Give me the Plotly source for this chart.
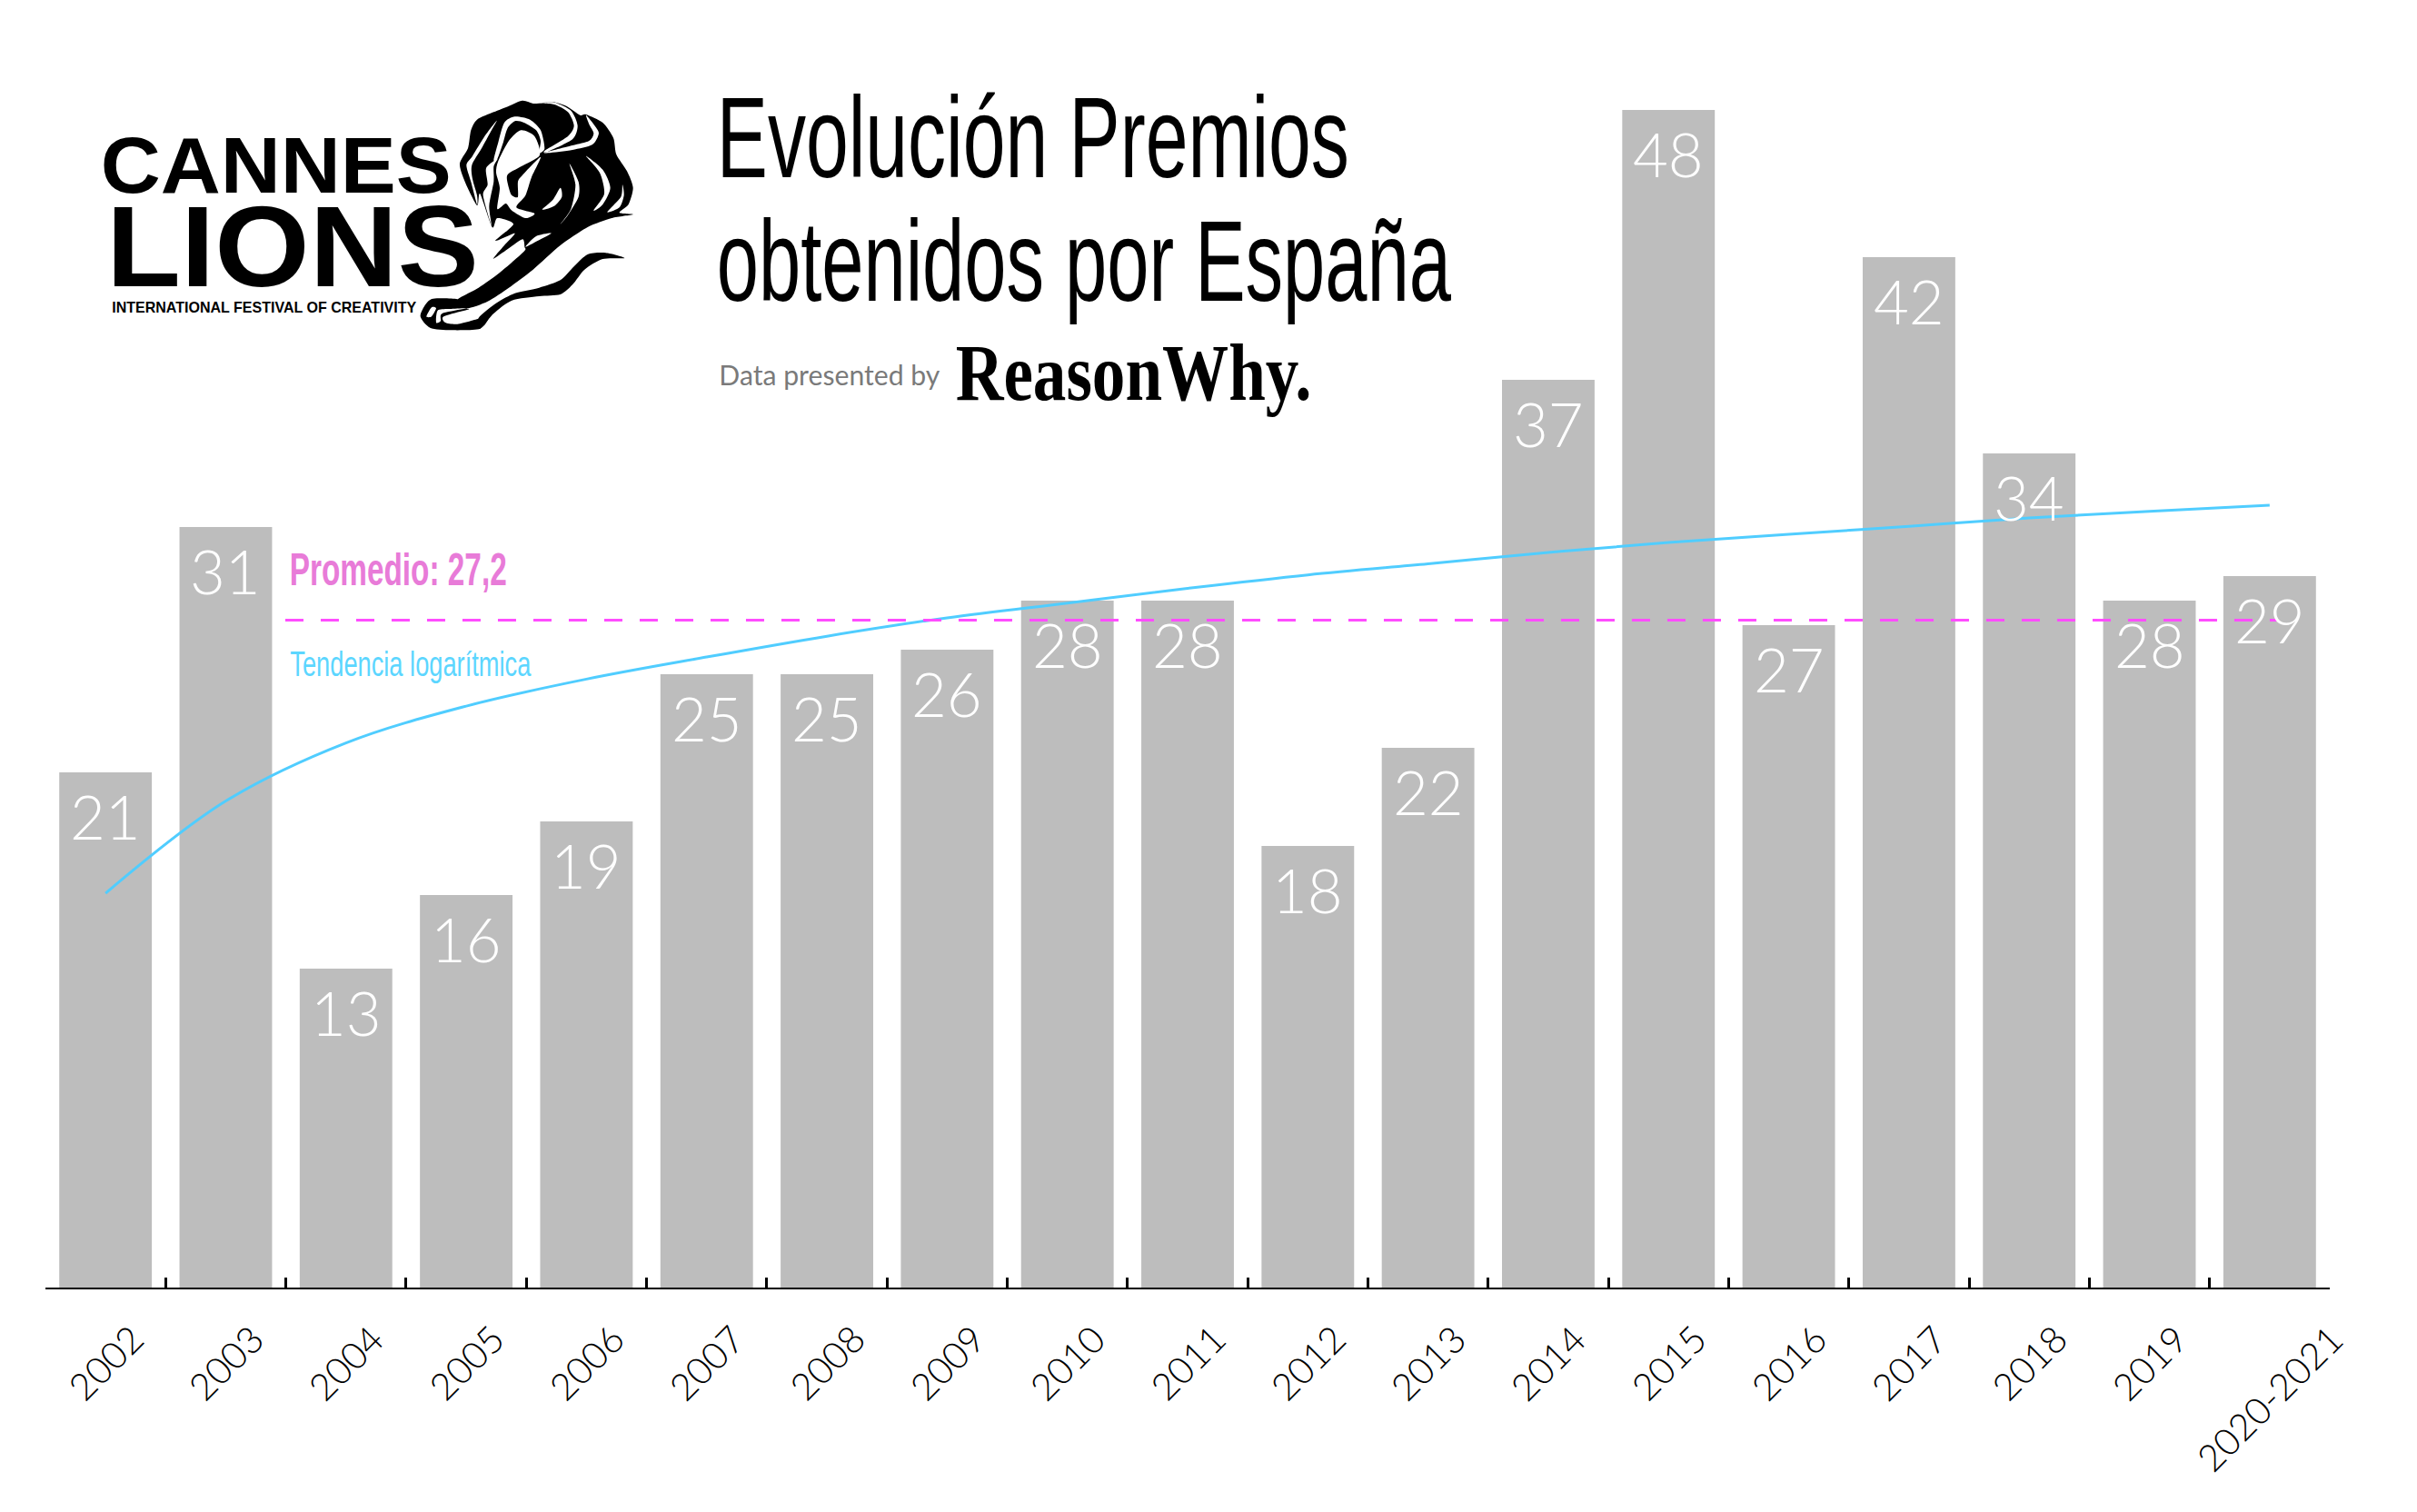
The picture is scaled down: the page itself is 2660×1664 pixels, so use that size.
import json
import plotly.graph_objects as go

years = ["2002","2003","2004","2005","2006","2007","2008","2009","2010","2011",
         "2012","2013","2014","2015","2016","2017","2018","2019","2020-2021"]
awards = [21,31,13,16,19,25,25,26,28,28,18,22,37,48,27,42,34,28,29]
trend = [16.07,19.83,22.2,23.7,24.8,25.7,26.55,27.3,27.9,28.5,29.05,29.5,29.96,30.37,30.7,31.03,31.37,31.64,31.89]
average = 27.2

W, H = 2660, 1664
L, R, T, B = 50, 2564, 67, 1417
BAR = "#bdbdbd"

def px(x): return (x - L) / (R - L)
def py(y): return (B - y) / (B - T)

fig = go.Figure()
fig.add_bar(x=years, y=awards, marker=dict(color=BAR, line_width=0), width=0.77, showlegend=False)
fig.add_scatter(x=years, y=trend, mode="lines", line=dict(color="#50cdff", width=3, shape="spline"), showlegend=False)

ann = []
LIGHT = "Lato"
for i, v in enumerate(awards):
    ann.append(dict(x=i, y=v, xref="x", yref="y", text=str(v), showarrow=False, xanchor="center", yanchor="top",
                    yshift=-6, font=dict(family=LIGHT, size=67, color="white", weight=300)))
for i, yr in enumerate(years):
    ann.append(dict(x=i, y=0, xref="x", yref="y", text=yr, showarrow=False, xanchor="center", yanchor="top",
                    yshift=-29, textangle=-45, font=dict(family=LIGHT, size=41, color="#000000", weight=300)))

# (text, centre x, centre y, font family, size, colour, weight, target width)
labels = [
    ("Evolución Premios", 1136.5, 151, "Liberation Sans", 127, "#000000", 400, 696),
    ("obtenidos por España", 1192.5, 287, "Liberation Sans", 127, "#000000", 400, 808),
    ("Data presented by", 913, 412, "Lato", 30, "#7a7a7a", 400, 243),
    ("ReasonWhy.", 1247, 410, "Liberation Serif", 89, "#000000", 700, 392),
    ("Promedio: 27,2", 438, 627, "Liberation Sans", 50, "#e87bd8", 700, 239),
    ("Tendencia logarítmica", 452, 731, "Liberation Sans", 38, "#5cd6ff", 400, 265),
    ("CANNES", 304, 182, "Liberation Sans", 88, "#000000", 700, 386),
    ("LIONS", 322, 271, "Liberation Sans", 127, "#000000", 700, 410),
    ("INTERNATIONAL FESTIVAL OF CREATIVITY", 291, 338, "Liberation Sans", 17, "#000000", 700, 335),
]
fit = {}
for t, x, y, fam, size, col, wt, tw in labels:
    fit[t] = tw
    ann.append(dict(x=px(x), y=py(y), xref="paper", yref="paper", text=t, showarrow=False,
                    xanchor="center", yanchor="middle", font=dict(family=fam, size=size, color=col, weight=wt)))

# ---- logo lion ----
def smooth(pts, k=8.0):
    n = len(pts)
    P = [(px(460 + a / 3), py(100 + b / 3)) for a, b in pts]
    d = "M%.5f,%.5f" % P[0]
    for i in range(n):
        p0, p1, p2, p3 = P[i - 1], P[i], P[(i + 1) % n], P[(i + 2) % n]
        c1 = (p1[0] + (p2[0] - p0[0]) / k, p1[1] + (p2[1] - p0[1]) / k)
        c2 = (p2[0] - (p3[0] - p1[0]) / k, p2[1] - (p3[1] - p1[1]) / k)
        d += " C%.5f,%.5f %.5f,%.5f %.5f,%.5f" % (*c1, *c2, *p2)
    return d + " Z"

black = [
    [(345,32),(385,42),(440,36),(490,50),(535,80),(555,78),(610,105),(645,155),(655,210),(690,265),(710,320),(695,375),(665,402),(710,408),(640,420),(560,450),(470,510),(380,590),(300,650),(230,695),(160,718),(130,690),(200,650),(270,600),(350,530),(352,515),(345,490),(300,520),(248,555),(285,510),(320,470),(255,495),(315,440),(262,420),(245,450),(205,340),(195,378),(155,300),(138,240),(165,190),(175,130),(195,95),(250,70),(300,50)],
    [(682,552),(620,535),(560,540),(515,580),(470,625),(400,650),(320,668),(260,700),(200,750),(205,785),(250,735),(310,692),(400,678),(470,672),(510,640),(550,590),(610,555)],
    [(160,718),(130,688),(50,686),(25,705),(8,745),(40,782),(110,790),(205,785),(235,745),(190,755),(130,770),(90,765),(85,745),(165,722)],
]
white = [
    [(250,228),(265,170),(285,105),(320,85),(370,95),(405,130),(418,190),(400,205),(405,165),(390,130),(350,105),(320,100),(295,125),(280,175),(262,225)],
    [(390,40),(450,45),(495,70),(515,115),(495,150),(418,198),(430,200),(510,160),(527,115),(505,65),(450,38)],
    [(555,80),(580,110),(597,140),(575,178),(510,195),(430,205),(420,203),(510,180),(565,165),(580,140),(565,110)],
    [(265,232),(300,165),(340,130),(385,150),(402,212),(340,250),(295,278),(300,320),(310,345),(330,350),(330,300),(345,278),(405,218),(375,285),(355,345),(325,385),(385,405),(355,420),(310,395),(290,372),(262,390),(270,320),(258,270)],
    [(260,98),(220,150),(180,215),(160,245),(175,300),(195,375),(195,345),(180,290),(178,245),(210,190),(240,135)],
    [(262,225),(225,255),(230,310),(215,345),(243,445),(235,380),(250,300),(250,250)],
    [(500,240),(520,310),(505,390),(470,440),(495,410),(530,350),(530,300)],
    [(555,215),(600,270),(615,340),(580,395),(610,375),(635,320),(610,260)],
    [(675,310),(670,350),(625,400),(665,385),(680,345)],
    [(470,320),(445,360),(410,392),(450,380),(475,350)],
    [(440,470),(390,480),(355,515),(395,495)],
    [(45,715),(28,745),(45,745),(60,718)],
    [(65,725),(60,765),(75,760),(80,735),(160,718),(100,720)],
]
shapes = [dict(type="line", xref="x", yref="y", x0=1.495, x1=18.07, y0=average, y1=average,
               line=dict(color="#ff4dff", width=3, dash="20px,19px"), layer="above")]
for p in black:
    shapes.append(dict(type="path", xref="paper", yref="paper", path=smooth(p), fillcolor="#000000", line_width=0))
for p in white:
    shapes.append(dict(type="path", xref="paper", yref="paper", path=smooth(p), fillcolor="#ffffff", line_width=0))

fig.update_layout(
    width=W, height=H, margin=dict(l=L, r=W - R, t=T, b=H - B, pad=0),
    paper_bgcolor="white", plot_bgcolor="white", showlegend=False, annotations=ann, shapes=shapes,
    bargap=0.23,
    xaxis=dict(type="category", categoryorder="array", categoryarray=years, range=[-0.5, 18.5], tickson="boundaries", ticks="inside",
               ticklen=11, tickwidth=2.5, tickcolor="#000000", showline=True, linecolor="#000000", linewidth=2,
               showticklabels=False, showgrid=False, zeroline=False),
    yaxis=dict(range=[0, 50], visible=False, showgrid=False, zeroline=False),
)

post = """
document.body.style.margin = '0';
var fit = %s;
document.querySelectorAll('text.annotation-text').forEach(function (t) {
  var w = fit[t.textContent];
  if (w) { t.setAttribute('textLength', w); t.setAttribute('lengthAdjust', 'spacingAndGlyphs'); }
});
""" % json.dumps(fit, ensure_ascii=False)
fig.write_html("out.html", post_script=post, config=dict(displayModeBar=False))
